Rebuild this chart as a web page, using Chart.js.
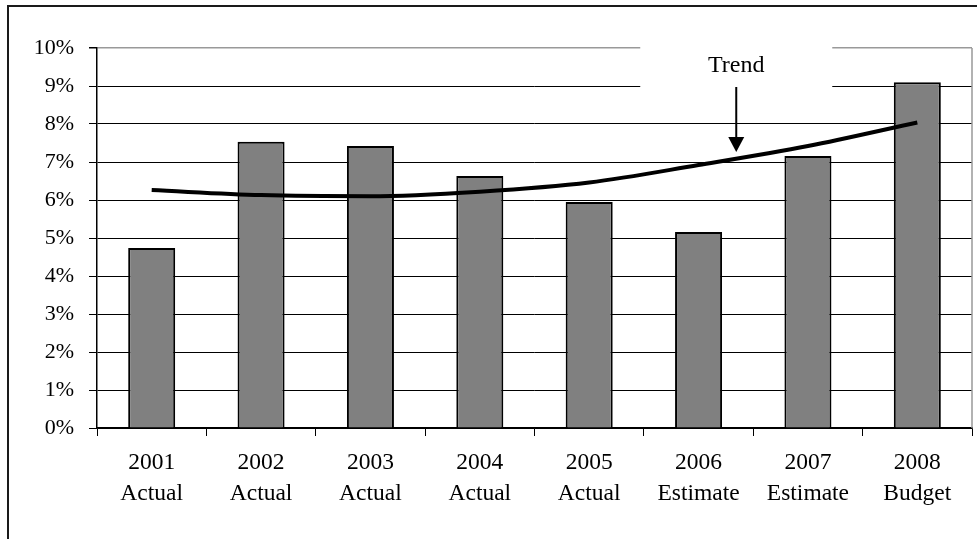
<!DOCTYPE html>
<html>
<head>
<meta charset="utf-8">
<script src="https://cdn.jsdelivr.net/npm/chart.js@4"></script>
<style>
  html, body { margin: 0; padding: 0; background: #fff; }
  #wrap { position: relative; width: 977px; height: 539px; overflow: hidden; }
  #frame { position: absolute; left: 7px; top: 5px; width: 1000px; height: 600px; border: 2px solid #1a1a1a; box-sizing: border-box; }
  canvas { position: absolute; left: 0; top: 0; }
</style>
</head>
<body>
<div id="wrap">
  <div id="frame"></div>
  <canvas id="chart" width="977" height="539"></canvas>
</div>
<script>
//Chart data.
const years = ['2001', '2002', '2003', '2004', '2005', '2006', '2007', '2008'];
const kinds = ['Actual', 'Actual', 'Actual', 'Actual', 'Actual', 'Estimate', 'Estimate', 'Budget'];
const barValues = [4.74, 7.53, 7.42, 6.63, 5.95, 5.16, 7.16, 9.10];
const trendValues = [6.26, 6.13, 6.10, 6.22, 6.46, 6.92, 7.42, 8.04];
const yTicks = [0, 1, 2, 3, 4, 5, 6, 7, 8, 9, 10];

const serif = "'Liberation Serif', 'Times New Roman', serif";

//Plugin for the white box behind the "Trend" note, the note itself and its arrow, plus the grey right edge of the plot.
const trendNote = {
    id: 'trendNote',
    beforeDatasetsDraw(chart) {
        const c = chart.ctx;
        const x = chart.scales.x;
        const y = chart.scales.y;
        const mid = (x.getPixelForValue(5) + x.getPixelForValue(6)) / 2 - 17;
        c.save();
        c.fillStyle = '#fff';
        c.fillRect(mid - 96, y.getPixelForValue(10) - 4, 192, y.getPixelForValue(9) - y.getPixelForValue(10) + 7);
        //grey right border of the plot area
        c.strokeStyle = '#999';
        c.lineWidth = 1.5;
        c.beginPath();
        c.moveTo(chart.chartArea.right, chart.chartArea.top);
        c.lineTo(chart.chartArea.right, chart.chartArea.bottom);
        c.stroke();
        c.restore();
    },
    afterDatasetsDraw(chart) {
        const c = chart.ctx;
        const x = chart.scales.x;
        const mid = (x.getPixelForValue(5) + x.getPixelForValue(6)) / 2 - 17;
        c.save();
        c.fillStyle = '#000';
        c.font = '24px ' + serif;
        c.textAlign = 'center';
        c.textBaseline = 'middle';
        c.fillText('Trend', mid, 66);
        //arrow
        c.strokeStyle = '#000';
        c.lineWidth = 2;
        c.beginPath();
        c.moveTo(mid, 87);
        c.lineTo(mid, 138);
        c.stroke();
        c.beginPath();
        c.moveTo(mid - 8, 137);
        c.lineTo(mid + 8, 137);
        c.lineTo(mid, 152);
        c.closePath();
        c.fill();
        c.restore();
    }
};

const ctx = document.getElementById('chart').getContext('2d');

new Chart(ctx, {
    data: {
        labels: years.map((yr, i) => [yr, kinds[i]]),
        datasets: [{
            type: 'line',
            label: 'Trend',
            data: trendValues,
            borderColor: '#000',
            borderWidth: 4,
            pointRadius: 0,
            tension: 0.4,
            cubicInterpolationMode: 'monotone',
            order: 0
        }, {
            type: 'bar',
            label: 'Rate',
            data: barValues,
            backgroundColor: '#808080',
            borderColor: '#000',
            borderWidth: 2,
            barPercentage: 0.43,
            categoryPercentage: 1,
            order: 1
        }]
    },
    options: {
        responsive: false,
        animation: false,
        events: [],
        layout: { padding: { left: 0, top: 48, right: 5, bottom: 0 } },
        plugins: {
            legend: { display: false },
            tooltip: { enabled: false }
        },
        scales: {
            x: {
                offset: true,
                grid: {
                    offset: true,
                    drawOnChartArea: false,
                    drawTicks: true,
                    tickLength: 8,
                    color: '#000'
                },
                border: { color: '#000', width: 1.5 },
                ticks: {
                    color: '#000',
                    font: { family: serif, size: 23.5, lineHeight: 1.32 },
                    padding: 11,
                    maxRotation: 0
                },
                afterFit(scale) { scale.height = 111; }
            },
            y: {
                min: 0,
                max: 10,
                afterBuildTicks(scale) { scale.ticks = yTicks.map(v => ({ value: v })); },
                grid: {
                    color: ctx => ctx.tick && ctx.tick.value === 10 ? '#999' : '#000',
                    lineWidth: ctx => ctx.tick && ctx.tick.value === 10 ? 1.5 : 1,
                    tickColor: '#000',
                    tickLength: 8
                },
                border: { color: '#000', width: 1.5 },
                ticks: {
                    color: '#000',
                    font: { family: serif, size: 22 },
                    padding: 15,
                    callback: v => v + '%'
                },
                afterFit(scale) { scale.width = 97; }
            }
        }
    },
    plugins: [trendNote]
});
</script>
</body>
</html>
